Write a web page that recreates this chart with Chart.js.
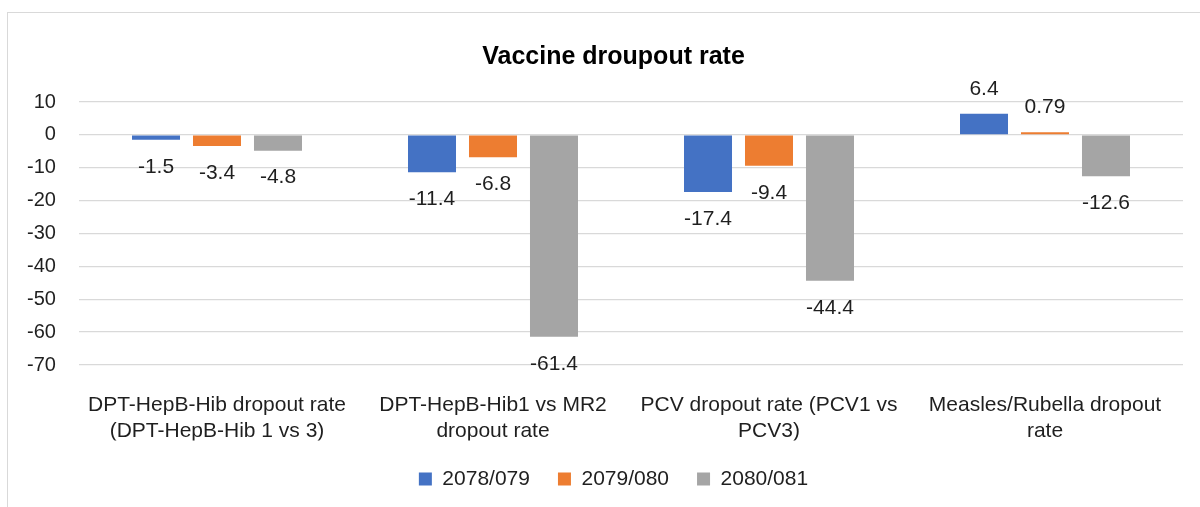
<!DOCTYPE html>
<html>
<head>
<meta charset="utf-8">
<script src="https://cdn.jsdelivr.net/npm/chart.js@4.4.1/dist/chart.umd.min.js"></script>
<style>
  html, body { margin: 0; padding: 0; background: #fff; overflow: hidden; }
  #marco { position: absolute; left: 7px; top: 12px; width: 1300px; height: 600px; border: 1px solid #d9d9d9; }
  #grafica { position: absolute; left: 0; top: 0; }
</style>
</head>
<body>
<div id="marco"></div>
<canvas id="grafica" width="1200" height="507"></canvas>
<script>
const categorias = [
    ["DPT-HepB-Hib dropout rate", "(DPT-HepB-Hib 1 vs 3)"],
    ["DPT-HepB-Hib1 vs MR2", "dropout rate"],
    ["PCV dropout rate (PCV1 vs", "PCV3)"],
    ["Measles/Rubella dropout", "rate"]
];
const series = ["2078/079", "2079/080", "2080/081"];
const valores2078 = [-1.5, -11.4, -17.4, 6.4];
const valores2079 = [-3.4, -6.8, -9.4, 0.79];
const valores2080 = [-4.8, -61.4, -44.4, -12.6];
const colores = ["#4472c4", "#ed7d31", "#a5a5a5"];
const ejeY = { min: -70, max: 10, paso: 10 };

const fuente = "'Liberation Sans', Arial, sans-serif";
const colorTexto = "#1f1f1f";

// etiquetas de valor al final de cada barra (como "extremo externo" en Excel)
const etiquetasBarras = {
    id: "etiquetasBarras",
    afterDatasetsDraw(chart) {
        const ctx = chart.ctx;
        ctx.save();
        ctx.font = "21px " + fuente;
        ctx.fillStyle = colorTexto;
        ctx.textAlign = "center";
        ctx.textBaseline = "middle";
        chart.data.datasets.forEach((ds, i) => {
            const meta = chart.getDatasetMeta(i);
            meta.data.forEach((bar, j) => {
                const v = ds.data[j];
                const y = v < 0 ? bar.y + 27 : bar.y - 25;
                ctx.fillText(String(v), bar.x, y);
            });
        });
        ctx.restore();
    }
};

const datos = [valores2078, valores2079, valores2080];

new Chart(document.getElementById("grafica").getContext("2d"), {
    type: "bar",
    data: {
        labels: categorias,
        datasets: series.map((nombre, i) => ({
            label: nombre,
            data: datos[i],
            backgroundColor: colores[i],
            categoryPercentage: 0.663,
            barPercentage: 0.787
        }))
    },
    options: {
        responsive: false,
        animation: false,
        layout: { padding: { left: 44, right: 17, top: 0, bottom: 7.5 } },
        plugins: {
            title: {
                display: true,
                text: "Vaccine droupout rate",
                color: "#000",
                font: { family: fuente, size: 25, weight: "bold", lineHeight: 1.2 },
                padding: { top: 42, bottom: 30 }
            },
            legend: {
                position: "bottom",
                labels: {
                    boxWidth: 13,
                    boxHeight: 13,
                    padding: 28,
                    color: colorTexto,
                    font: { family: fuente, size: 21 }
                }
            },
            tooltip: { enabled: false }
        },
        scales: {
            x: {
                grid: { display: false },
                border: { display: false },
                ticks: {
                    color: colorTexto,
                    padding: 19,
                    maxRotation: 0,
                    autoSkip: false,
                    font: { family: fuente, size: 21, lineHeight: 1.24 }
                },
                afterFit(scale) { scale.height = 75.5; }
            },
            y: {
                min: ejeY.min,
                max: ejeY.max,
                grid: { color: "#d9d9d9", lineWidth: 1.3, drawTicks: false },
                border: { display: false },
                ticks: {
                    stepSize: ejeY.paso,
                    // mirror evita el recorte de etiquetas; alineadas a la derecha en x≈56
                    mirror: true,
                    crossAlign: "far",
                    padding: -52,
                    color: colorTexto,
                    font: { family: fuente, size: 20 }
                },
                afterFit(scale) { scale.width = 35; }
            }
        }
    },
    plugins: [etiquetasBarras]
});
</script>
</body>
</html>
